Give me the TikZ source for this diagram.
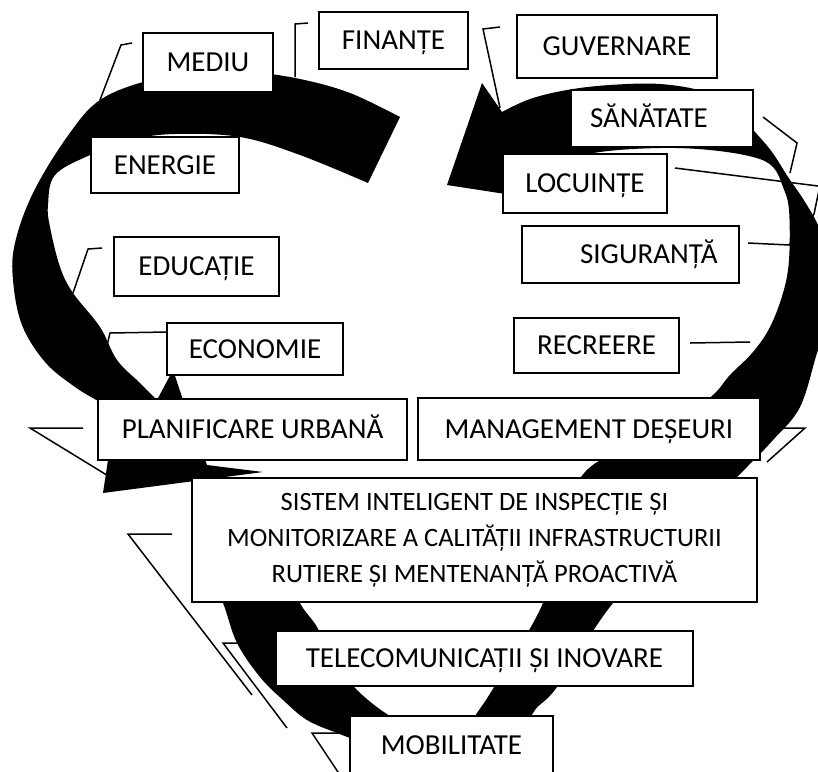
\documentclass[tikz,border=0pt]{standalone}
\usepackage{fontspec}
\setmainfont{Carlito}
\begin{document}
\begin{tikzpicture}[x=1pt,y=-1pt,
  boxbase/.style={draw=black, line width=1.8pt, fill=white, inner sep=0pt, font=\fontsize{29}{34}\selectfont},
  box/.style={boxbase, text height=18.7pt, text depth=0pt},
  band/.style={fill=black},
  conn/.style={draw=black, line width=1.5pt, line join=miter}]
\useasboundingbox (0,0) rectangle (818,771);
\clip (0,0) rectangle (818,771);

% ---- black bands of the heart ----
% left arrow (tail at top, head near PLANIFICARE)
\fill[band] (400,117) -- plot[smooth, tension=0.6] coordinates {(400,117) (350,93) (300,79) (250,72) (200,72) (150,80) (100,100) (67,137) (33,193) (15,243) (13,280) (22,325) (45,362) (75,387) (100,402)}
  -- (108,460) -- (103,493) -- (263,472) -- (207,465) -- (183,400) -- (173,370) -- (157,400)
  -- plot[smooth, tension=0.6] coordinates {(157,400) (140,383) (117,360) (100,327) (73,293) (60,267) (50,227) (48,205) (55,175) (90,155) (130,140) (175,134) (240,137) (300,155) (368,183)} -- cycle;
% right arrow (tail at bottom, head at top centre)
\fill[band] (447,185) -- (482,83) -- (502,112)
  -- plot[smooth, tension=0.6] coordinates {(502,112) (530,99) (567,90) (610,85) (660,84) (705,92) (735,110) (755,132) (772,152) (788,177) (805,202) (820,230) (830,270) (830,315) (817,353) (800,407) (773,440) (747,467) (680,535) (613,603) (557,687) (533,713) (512,760)}
  -- (505,790) -- (440,790)
  -- plot[smooth, tension=0.6] coordinates {(455,745) (477,713) (494,687) (543,603) (555,540) (585,472) (645,440) (707,400) (730,375) (753,352) (770,327) (783,293) (789,260) (789,210) (783,187) (773,167) (753,157) (710,150) (660,148) (600,152) (555,163) (525,180) (512,195)} -- cycle;
% lower left band
\fill[band] plot[smooth, tension=0.6] coordinates {(205,560) (212,585) (223,603) (237,643) (260,677) (283,700) (307,720) (337,733) (370,745) (420,760)}
  -- (440,780) -- (445,735)
  -- plot[smooth, tension=0.6] coordinates {(430,735) (390,716) (357,690) (333,660) (317,627) (300,603) (288,570)} -- cycle;

% ---- connector end points ----
\coordinate (c1a) at (132,43);  \coordinate (c1b) at (121,45);  \coordinate (c1c) at (100,100);
\coordinate (c2a) at (308,23);  \coordinate (c2b) at (295,24);  \coordinate (c2c) at (295,77);
\coordinate (c3a) at (500,27);  \coordinate (c3b) at (483,29);  \coordinate (c3c) at (500,108);
\coordinate (c4a) at (763,117); \coordinate (c4b) at (797,143); \coordinate (c4c) at (790,173);
\coordinate (c5a) at (675,168); \coordinate (c5b) at (822,186.5);
\coordinate (c6a) at (748,243); \coordinate (c6b) at (789,245); \coordinate (c6c) at (814,214); \coordinate (c6d) at (819,190);
\coordinate (c7a) at (690,343); \coordinate (c7b) at (750,342);
\coordinate (c8a) at (773,428); \coordinate (c8b) at (805,428); \coordinate (c8c) at (767,462);
\coordinate (c9a) at (83,428);  \coordinate (c9b) at (30,428);  \coordinate (c9c) at (110,477);
\coordinate (c10a) at (167,332); \coordinate (c10b) at (110,333); \coordinate (c10c) at (106,350);
\coordinate (c11a) at (102,248); \coordinate (c11b) at (88,249); \coordinate (c11c) at (73,293);
\coordinate (c12a) at (172,534); \coordinate (c12b) at (128,534); \coordinate (c12c) at (252,695);
\coordinate (c13a) at (243,643); \coordinate (c13b) at (223,643); \coordinate (c13c) at (287,728);
\coordinate (c14a) at (345,733); \coordinate (c14b) at (312,733); \coordinate (c14c) at (342,778);

\draw[conn] (c1a) -- (c1b) -- (c1c);
\draw[conn] (c2a) -- (c2b) -- (c2c);
\draw[conn] (c3a) -- (c3b) -- (c3c);
\draw[conn] (c4a) -- (c4b) -- (c4c);
\draw[conn] (c5a) -- (c5b);
\draw[conn] (c6a) -- (c6b) -- (c6c) -- (c6d);
\draw[conn] (c7a) -- (c7b);
\draw[conn] (c8a) -- (c8b) -- (c8c);
\draw[conn] (c9a) -- (c9b) -- (c9c);
\draw[conn] (c10a) -- (c10b) -- (c10c);
\draw[conn] (c11a) -- (c11b) -- (c11c);
\draw[conn] (c12a) -- (c12b) -- (c12c);
\draw[conn] (c13a) -- (c13b) -- (c13c);
\draw[conn] (c14a) -- (c14b) -- (c14c);

% ---- boxes ----
\node[box, minimum width=130pt, minimum height=59pt] (mediu) at (208,62.5) {MEDIU};
\node[box, minimum width=149pt, minimum height=57pt] (finante) at (393.5,40.5) {FINANȚE};
\node[box, minimum width=200pt, minimum height=63pt] (guvernare) at (617,46.5) {GUVERNARE};
\node[box, minimum width=182pt, minimum height=57pt, text width=144pt, align=left] (sanatate) at (662,118.5) {SĂNĂTATE};
\node[box, minimum width=164pt, minimum height=59pt] (locuinte) at (585,183.5) {LOCUINȚE};
\node[box, minimum width=217pt, minimum height=57pt, text width=174pt, align=right] (siguranta) at (630.5,254.5) {SIGURANȚĂ};
\node[box, minimum width=165pt, minimum height=55pt] (recreere) at (596.5,345.5) {RECREERE};
\node[box, minimum width=148pt, minimum height=56pt] (energie) at (165,165) {ENERGIE};
\node[box, minimum width=165pt, minimum height=59pt] (educatie) at (196.5,266.5) {EDUCAȚIE};
\node[box, minimum width=176pt, minimum height=52pt] (economie) at (255,349) {ECONOMIE};
\node[box, minimum width=309pt, minimum height=61pt] (planificare) at (252.5,429.5) {PLANIFICARE URBANĂ};
\node[box, minimum width=342pt, minimum height=62pt] (management) at (589,429) {MANAGEMENT DEȘEURI};
\node[boxbase, minimum width=565pt, minimum height=124pt, align=center, font=\fontsize{26.5}{36}\selectfont] (sistem) at (474.5,540) {SISTEM INTELIGENT DE INSPECȚIE ȘI\\MONITORIZARE A CALITĂȚII INFRASTRUCTURII\\RUTIERE ȘI MENTENANȚĂ PROACTIVĂ};
\node[box, minimum width=417pt, minimum height=55pt] (telecom) at (484.5,658.5) {TELECOMUNICAȚII ȘI INOVARE};
\node[box, minimum width=203pt, minimum height=58pt] (mobilitate) at (451.5,745) {MOBILITATE};
\end{tikzpicture}
\end{document}
